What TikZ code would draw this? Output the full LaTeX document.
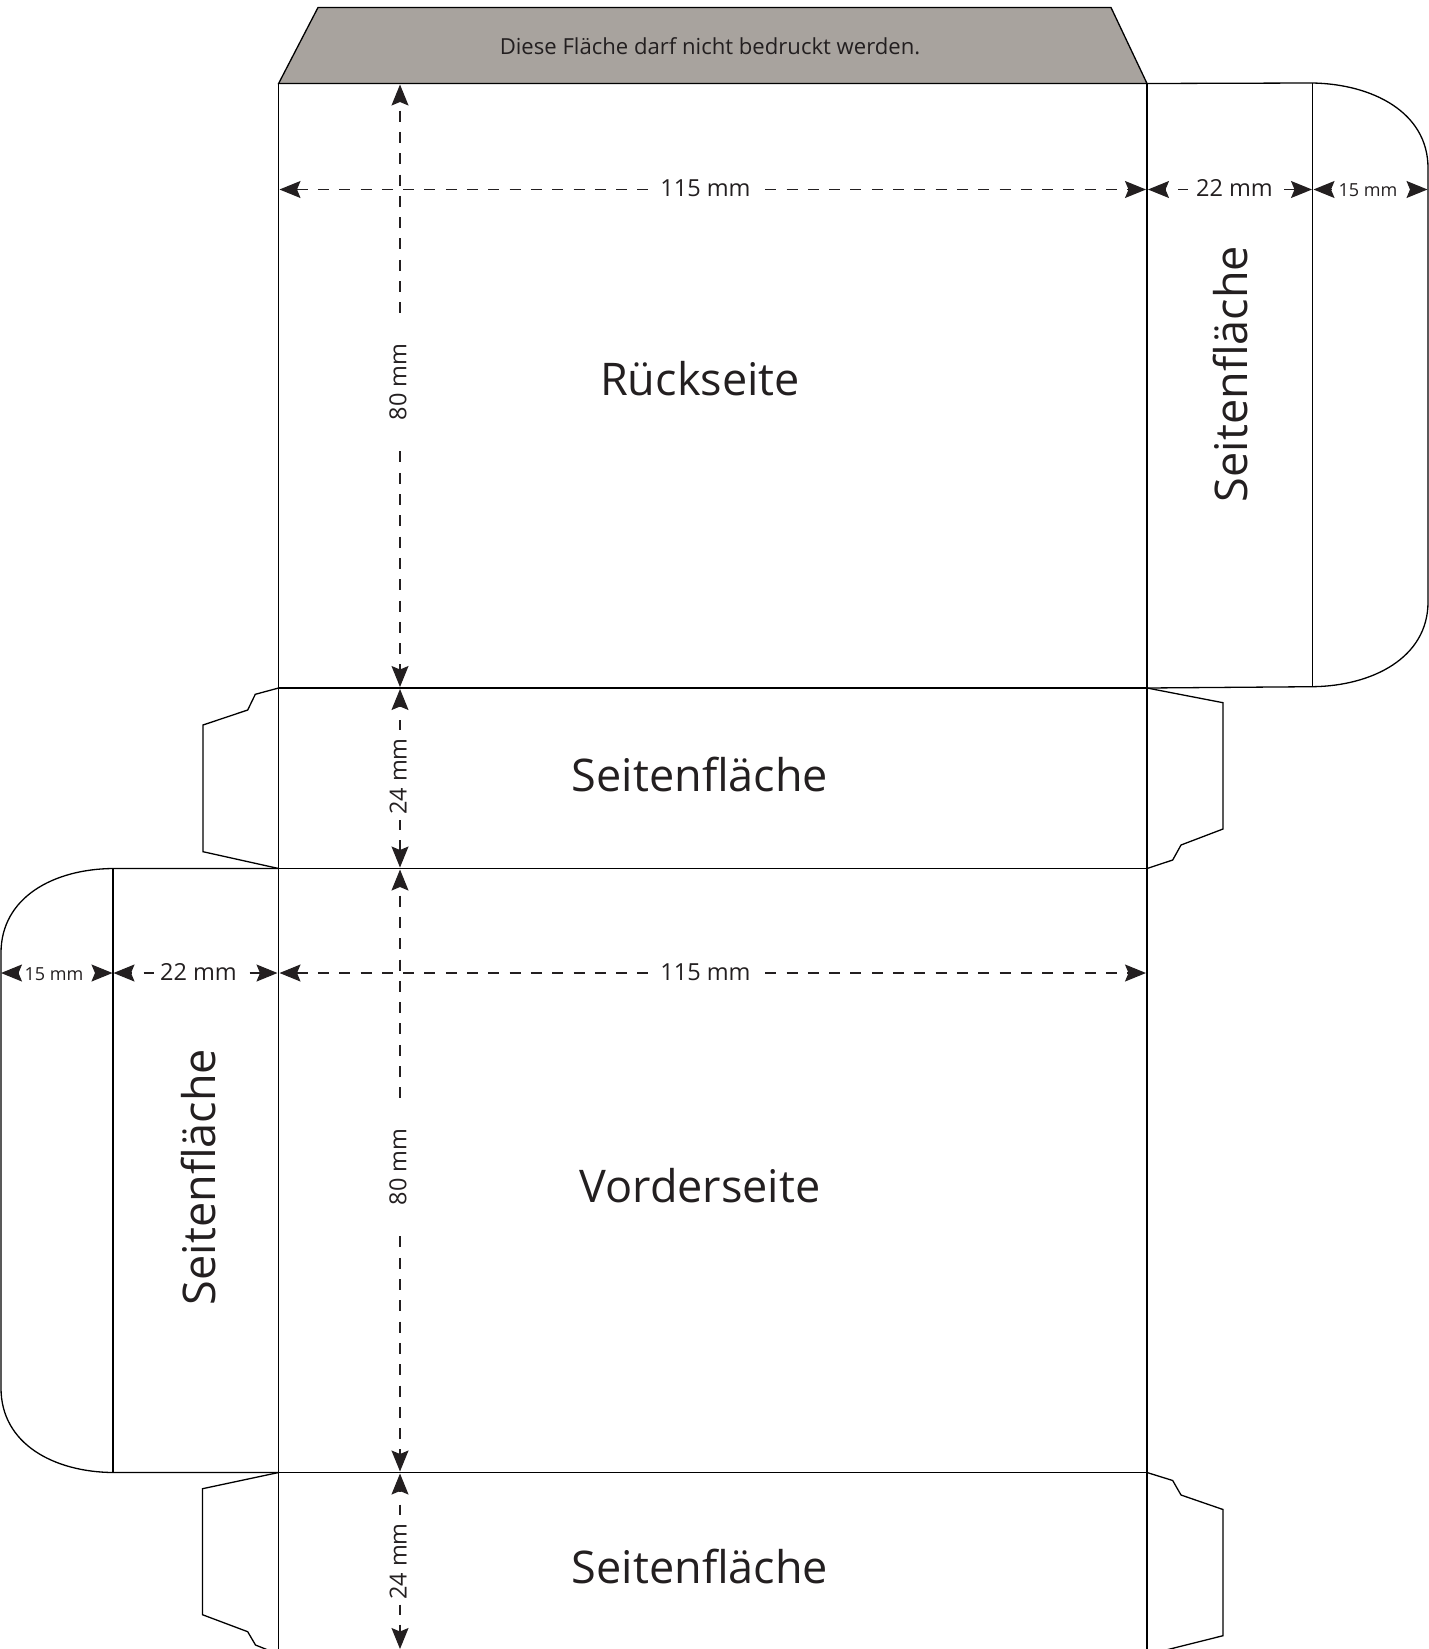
\documentclass[tikz,border=0pt]{standalone}
\usepackage{fontspec}
\setmainfont{Open Sans}
\usetikzlibrary{arrows.meta}
\definecolor{ink}{HTML}{231F20}
\definecolor{greyflap}{HTML}{A8A39E}
\tikzset{
  edge/.style={draw=black,line width=1.3pt,line join=miter},
  dim/.style={draw=ink,line width=1.2pt,dash pattern=on 11pt off 10.3pt,
     {Stealth[length=21pt,width=17pt,inset=3.5pt,ink]}-{Stealth[length=21pt,width=17pt,inset=3.5pt,ink]}},
  phasedim/.style={dim,dash phase=12.3pt},
  shortdim/.style={dim,dash pattern=on 1pt off 13pt on 10pt off 90pt on 10pt off 10pt on 12pt},
  widedim/.style={dim,dash pattern=on 1pt off 12pt on 10pt off 96pt on 12pt},
  tipdim/.style={dim,dash pattern=on 0.5pt off 300pt},
  dimlabel/.style={fill=white,text=ink,font=\fontsize{23.5}{26}\selectfont,inner sep=5pt},
  barelabel/.style={text=ink,font=\fontsize{23.5}{26}\selectfont,inner sep=0pt},
  smalllabel/.style={text=ink,font=\fontsize{18}{22}\selectfont,inner sep=0pt},
  bigface/.style={text=ink,font=\fontsize{45}{52}\selectfont,inner sep=0pt},
  notelabel/.style={text=ink,font=\fontsize{22.1}{26}\selectfont,inner sep=0pt},
}
\begin{document}
\begin{tikzpicture}[x=1pt,y=-1pt]
\useasboundingbox (0,0) rectangle (1429,1649);
\clip (0,0) rectangle (1429,1649);
% corner points
\coordinate (TL) at (278.6,83.5);
\coordinate (TR) at (1147,83.5);
\coordinate (A1) at (278.6,688);
\coordinate (A2) at (1147,688);
\coordinate (B1) at (278.6,868.5);
\coordinate (B2) at (1147,868.5);
\coordinate (C1) at (278.6,1472.5);
\coordinate (C2) at (1147,1472.5);
\coordinate (D1) at (278.6,1649);
\coordinate (D2) at (1147,1649);
% grey flap
\path[edge,fill=greyflap] (TL) -- (318,7.5) -- (1111,7.5) -- (TR) -- cycle;
% main body
\draw[edge] (TL) -- (D1);
\draw[edge] (TR) -- (D2);
\draw[edge] (TL) -- (TR);
\draw[edge] (A1) -- (A2);
\draw[edge] (B1) -- (B2);
\draw[edge] (C1) -- (C2);
% right panel
\coordinate (RT) at (1312.5,83);
\coordinate (RB) at (1312.5,686.7);
\draw[edge] (TR) -- (RT) .. controls (1372,84) and (1428,112) .. (1428,168)
   -- (1428,602) .. controls (1428,658) and (1372,686) .. (RB) -- (A2);
\draw[edge] (RT) -- (RB);
% left panel
\coordinate (LT) at (113,868.5);
\coordinate (LB) at (113,1472.5);
\draw[edge] (B1) -- (LT) .. controls (54,869) and (1,897) .. (1,953)
   -- (1,1388) .. controls (1,1444) and (54,1472) .. (LB) -- (C1);
\draw[edge] (LT) -- (LB);
% glue tabs
\draw[edge] (A1) -- (255.3,694.3) -- (247.7,710) -- (203,725) -- (203,851.7) -- (B1);
\draw[edge] (A2) -- (1223,702.7) -- (1223,829) -- (1181,845) -- (1172.7,860) -- (B2);
\draw[edge] (C1) -- (202.5,1488.7) -- (202.5,1614.7) -- (247.7,1631.7) -- (255.5,1645) -- (268,1650);
\draw[edge] (C2) -- (1172.7,1480.5) -- (1181,1495) -- (1223,1509.5) -- (1223,1635.7) -- (1166,1650);
% dimension anchors
\coordinate (h1a) at (279.5,189.5);
\coordinate (h1b) at (1146,189.5);
\coordinate (h2a) at (1148,189.5);
\coordinate (h2b) at (1312,189.5);
\coordinate (h3a) at (1313.5,189.5);
\coordinate (h3b) at (1427.5,189.5);
\coordinate (h4a) at (279.5,973);
\coordinate (h4b) at (1146,973);
\coordinate (h5a) at (113.5,973);
\coordinate (h5b) at (277.5,973);
\coordinate (h6a) at (1,973);
\coordinate (h6b) at (112.5,973);
\coordinate (v1a) at (400,84.5);
\coordinate (v1b) at (400,687);
\coordinate (v2a) at (400,689);
\coordinate (v2b) at (400,867.5);
\coordinate (v3a) at (400,869.5);
\coordinate (v3b) at (400,1471.5);
\coordinate (v4a) at (400,1473.5);
\coordinate (v4b) at (400,1649);
\draw[phasedim] (v1a) -- (v1b);
\draw[shortdim] (v2a) -- (v2b);
\draw[phasedim] (v3a) -- (v3b);
\draw[shortdim] (v4a) -- (v4b);
\draw[dim] (h1a) -- (h1b);
\draw[widedim] (h2a) -- (h2b);
\draw[tipdim] (h3a) -- (h3b);
\draw[dim] (h4a) -- (h4b);
\draw[widedim] (h5a) -- (h5b);
\draw[tipdim] (h6a) -- (h6b);
% dimension labels
\node[dimlabel] (l115a) at (705.5,188) {115 mm};
\node[barelabel] (l22a) at (1234.5,188) {22 mm};
\node[smalllabel] (l15a) at (1368,190.5) {15 mm};
\node[dimlabel] (l115b) at (705.5,972) {115 mm};
\node[barelabel] (l22b) at (198.5,972) {22 mm};
\node[smalllabel] (l15b) at (54,974.5) {15 mm};
\node[dimlabel,rotate=90,inner xsep=25pt] (l80a) at (398,382) {80 mm};
\node[barelabel,rotate=90] (l24a) at (398,776.5) {24 mm};
\node[dimlabel,rotate=90,inner xsep=25pt] (l80b) at (398,1167) {80 mm};
\node[barelabel,rotate=90] (l24b) at (398,1561.5) {24 mm};
% face labels
\node[notelabel] (note) at (710,46) {Diese Fläche darf nicht bedruckt werden.};
\node[bigface] (rueck) at (700,379) {Rückseite};
\node[bigface] (seite1) at (700,774) {Seitenfläche};
\node[bigface] (vorder) at (700,1186) {Vorderseite};
\node[bigface] (seite2) at (700,1566) {Seitenfläche};
\node[bigface,rotate=90] (seite3) at (1230,374) {Seitenfläche};
\node[bigface,rotate=90] (seite4) at (199,1177) {Seitenfläche};
\end{tikzpicture}
\end{document}
